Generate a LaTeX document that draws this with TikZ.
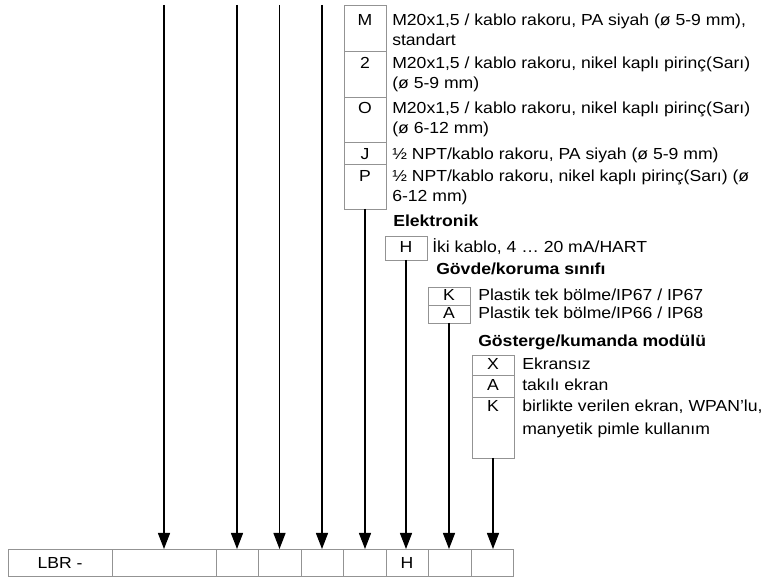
\documentclass[tikz,border=0pt]{standalone}
\usepackage{fontspec}
\setmainfont[FakeStretch=1.1]{Liberation Sans}
\usetikzlibrary{arrows.meta,positioning}

\begin{document}
\begin{tikzpicture}[x=0.75pt, y=-0.75pt]
  \useasboundingbox (0,0) rectangle (765,584);
  \tikzset{
    cell/.style={draw=gray!85, line width=0.6pt, minimum width=31.5pt, inner sep=0pt, outer sep=0pt},
    bcell/.style={draw=gray!85, line width=0.6pt, minimum height=20.25pt, inner sep=0pt, outer sep=0pt,
      font=\fontsize{12}{15}\selectfont},
    code/.style={anchor=base, inner sep=0pt, font=\fontsize{12}{15}\selectfont},
    desc/.style={anchor=base west, inner sep=0pt, align=left, font=\fontsize{12}{15}\selectfont},
    head/.style={anchor=base west, inner sep=0pt, font=\fontsize{12}{15}\selectfont\bfseries},
    feed/.style={line width=1pt, -{Triangle[width=9pt,length=12pt]}}
  }

  % --- type code row at the bottom
  \node[bcell, minimum width=78pt] (b1) at (60,562.5) {LBR -};
  \node[bcell, minimum width=78pt, right=0pt of b1] (b2) {};
  \node[bcell, minimum width=31.5pt, right=0pt of b2] (b3) {};
  \node[bcell, minimum width=32.25pt, right=0pt of b3] (b4) {};
  \node[bcell, minimum width=31.5pt, right=0pt of b4] (b5) {};
  \node[bcell, minimum width=32.25pt, right=0pt of b5] (b6) {};
  \node[bcell, minimum width=31.5pt, right=0pt of b6] (b7) {H};
  \node[bcell, minimum width=32.25pt, right=0pt of b7] (b8) {};
  \node[bcell, minimum width=31.5pt, right=0pt of b8] (b9) {};

  % --- cable gland (two-line texts sit on the baseline of their last line)
  \node[cell, minimum height=34.5pt, anchor=north] (gm) at (365,5) {};
  \node[cell, minimum height=34.5pt, below=0pt of gm] (g2) {};
  \node[cell, minimum height=33.75pt, below=0pt of g2] (go) {};
  \node[cell, minimum height=16.5pt, below=0pt of go] (gj) {};
  \node[cell, minimum height=33.75pt, below=0pt of gj] (gp) {};

  \node[code] (lgm) at (365,25.5) {M};
  \node[code] (lg2) at (365,68.5) {2};
  \node[code] (lgo) at (365,114) {O};
  \node[code] (lgj) at (365,160) {J};
  \node[code] (lgp) at (365,182) {P};

  \node[desc] (dgm) at (392,45.5) {M20x1,5 / kablo rakoru, PA siyah (ø 5-9 mm),\\standart};
  \node[desc] (dg2) at (392,88.5) {M20x1,5 / kablo rakoru, nikel kaplı pirinç(Sarı)\\(ø 5-9 mm)};
  \node[desc] (dgo) at (392,134) {M20x1,5 / kablo rakoru, nikel kaplı pirinç(Sarı)\\(ø 6-12 mm)};
  \node[desc] (dgj) at (392,160) {½ NPT/kablo rakoru, PA siyah (ø 5-9 mm)};
  \node[desc] (dgp) at (392,202) {½ NPT/kablo rakoru, nikel kaplı pirinç(Sarı) (ø\\6-12 mm)};

  % --- electronics
  \node[head] (hel) at (393,227) {Elektronik};
  \node[cell, minimum height=18pt, anchor=north] (eh) at (406,236) {};
  \node[code] (leh) at (406,253) {H};
  \node[desc] (deh) at (432,253) {İki kablo, 4 … 20 mA/HART};

  % --- housing
  \node[head] (hho) at (436,275) {Gövde/koruma sınıfı};
  \node[cell, minimum height=13.5pt, anchor=north] (hk) at (449,287) {};
  \node[cell, minimum height=13.5pt, below=0pt of hk] (ha) {};
  \node[code] (lhk) at (449,301) {K};
  \node[code] (lha) at (449,319) {A};
  \node[desc] (dhk) at (478,301) {Plastik tek bölme/IP67 / IP67};
  \node[desc] (dha) at (478,319) {Plastik tek bölme/IP66 / IP68};

  % --- display / operating module
  \node[head] (hdi) at (478,347) {Gösterge/kumanda modülü};
  \node[cell, minimum height=15pt, anchor=north] (dx) at (493,355) {};
  \node[cell, minimum height=16.5pt, below=0pt of dx] (da) {};
  \node[cell, minimum height=45.75pt, below=0pt of da] (dk) {};
  \node[code] (ldx) at (493,370) {X};
  \node[code] (lda) at (493,391) {A};
  \node[code] (ldk) at (493,412) {K};
  \node[desc] (ddx) at (522,370) {Ekransız};
  \node[desc] (dda) at (522,391) {takılı ekran};
  \node[desc] (ddk) at (522,435) {birlikte verilen ekran, WPAN'lu,\\[2.25pt]manyetik pimle kullanım};

  % --- feed lines down to the code row
  \coordinate (t2) at (164,5);
  \coordinate (t3) at (237,5);
  \coordinate (t4) at (279.5,5);
  \coordinate (t5) at (322,5);

  \draw[feed] (t2) -- (t2 |- b2.north);
  \draw[feed] (t3) -- (t3 |- b3.north);
  \draw[feed] (t4) -- (t4 |- b4.north);
  \draw[feed] (t5) -- (t5 |- b5.north);
  \draw[feed] (gp.south) -- (gp.south |- b6.north);
  \draw[feed] (eh.south) -- (eh.south |- b7.north);
  \draw[feed] (ha.south) -- (ha.south |- b8.north);
  \draw[feed] (dk.south) -- (dk.south |- b9.north);
\end{tikzpicture}
\end{document}
